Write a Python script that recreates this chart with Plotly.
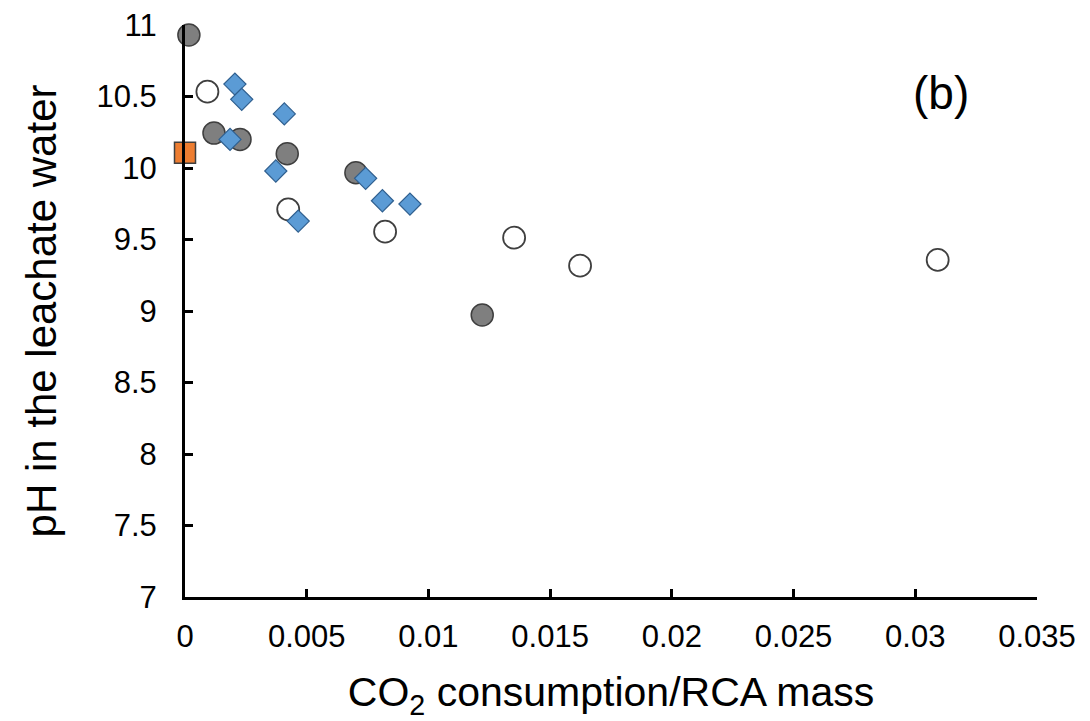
import plotly.graph_objects as go

# Data
gray_x = [0.00016, 0.00119, 0.00226, 0.0042, 0.00702, 0.01221]
gray_y = [10.93, 10.244, 10.20, 10.10, 9.967, 8.972]

white_x = [0.00092, 0.00424, 0.00822, 0.01352, 0.01623, 0.03092]
white_y = [10.534, 9.711, 9.555, 9.513, 9.317, 9.357]

blue_x = [0.00205, 0.00233, 0.00185, 0.00408, 0.00373, 0.00465, 0.00742, 0.00811, 0.00924]
blue_y = [10.587, 10.48, 10.20, 10.378, 9.979, 9.629, 9.928, 9.771, 9.748]

orange_x = [0.0]
orange_y = [10.107]

x_ticks = [0, 0.005, 0.01, 0.015, 0.02, 0.025, 0.03, 0.035]
x_labels = ["0", "0.005", "0.01", "0.015", "0.02", "0.025", "0.03", "0.035"]
y_ticks = [7, 7.5, 8, 8.5, 9, 9.5, 10, 10.5, 11]
y_labels = ["7", "7.5", "8", "8.5", "9", "9.5", "10", "10.5", "11"]

FONT = "Liberation Sans, Arial, sans-serif"

fig = go.Figure()
fig.add_trace(go.Scatter(x=gray_x, y=gray_y, mode="markers", cliponaxis=False,
                         marker=dict(symbol="circle", size=22, color="#7f7f7f",
                                     line=dict(color="#3f3f3f", width=1.5))))
fig.add_trace(go.Scatter(x=white_x, y=white_y, mode="markers", cliponaxis=False,
                         marker=dict(symbol="circle", size=22, color="#ffffff",
                                     line=dict(color="#3f3f3f", width=1.8))))
fig.add_trace(go.Scatter(x=blue_x, y=blue_y, mode="markers", cliponaxis=False,
                         marker=dict(symbol="diamond", size=17, color="#5b9bd5",
                                     line=dict(color="#2f5f8f", width=1.2))))
fig.add_trace(go.Scatter(x=orange_x, y=orange_y, mode="markers", cliponaxis=False,
                         marker=dict(symbol="square", size=21, color="#ed7d31",
                                     line=dict(color="#3f3f3f", width=1.5))))

fig.update_layout(
    width=1090, height=721,
    margin=dict(l=185, r=53, t=25, b=124, autoexpand=False),
    plot_bgcolor="white", paper_bgcolor="white",
    showlegend=False,
    font=dict(family=FONT, color="black"),
    xaxis=dict(range=[0, 0.035], tickvals=x_ticks, ticktext=x_labels,
               showgrid=False, zeroline=False, showline=True,
               linecolor="black", linewidth=3, automargin=False,
               ticks="inside", ticklen=8, tickwidth=2.5, tickcolor="black",
               tickfont=dict(size=31, family=FONT), ticklabelstandoff=10,
               title=dict(text="CO<sub>2</sub> consumption/RCA mass",
                          font=dict(size=41, family=FONT), standoff=35)),
    yaxis=dict(range=[7, 11], tickvals=y_ticks, ticktext=y_labels,
               showgrid=False, zeroline=False, showline=True,
               linecolor="black", linewidth=3, automargin=False,
               ticks="inside", ticklen=8, tickwidth=2.5, tickcolor="black",
               tickfont=dict(size=31, family=FONT), ticklabelstandoff=19,
               title=dict(text="pH in the leachate water",
                          font=dict(size=42, family=FONT), standoff=27)),
)
# "(b)" label placed in paper coordinates
pw, ph = 1090 - 185 - 53, 721 - 25 - 124
fig.add_annotation(text="(b)", x=(941 - 185) / pw, y=(721 - 124 - 93) / ph,
                   xref="paper", yref="paper", xanchor="center", yanchor="middle",
                   showarrow=False, font=dict(size=46, family=FONT))

fig.write_html("out.html")
